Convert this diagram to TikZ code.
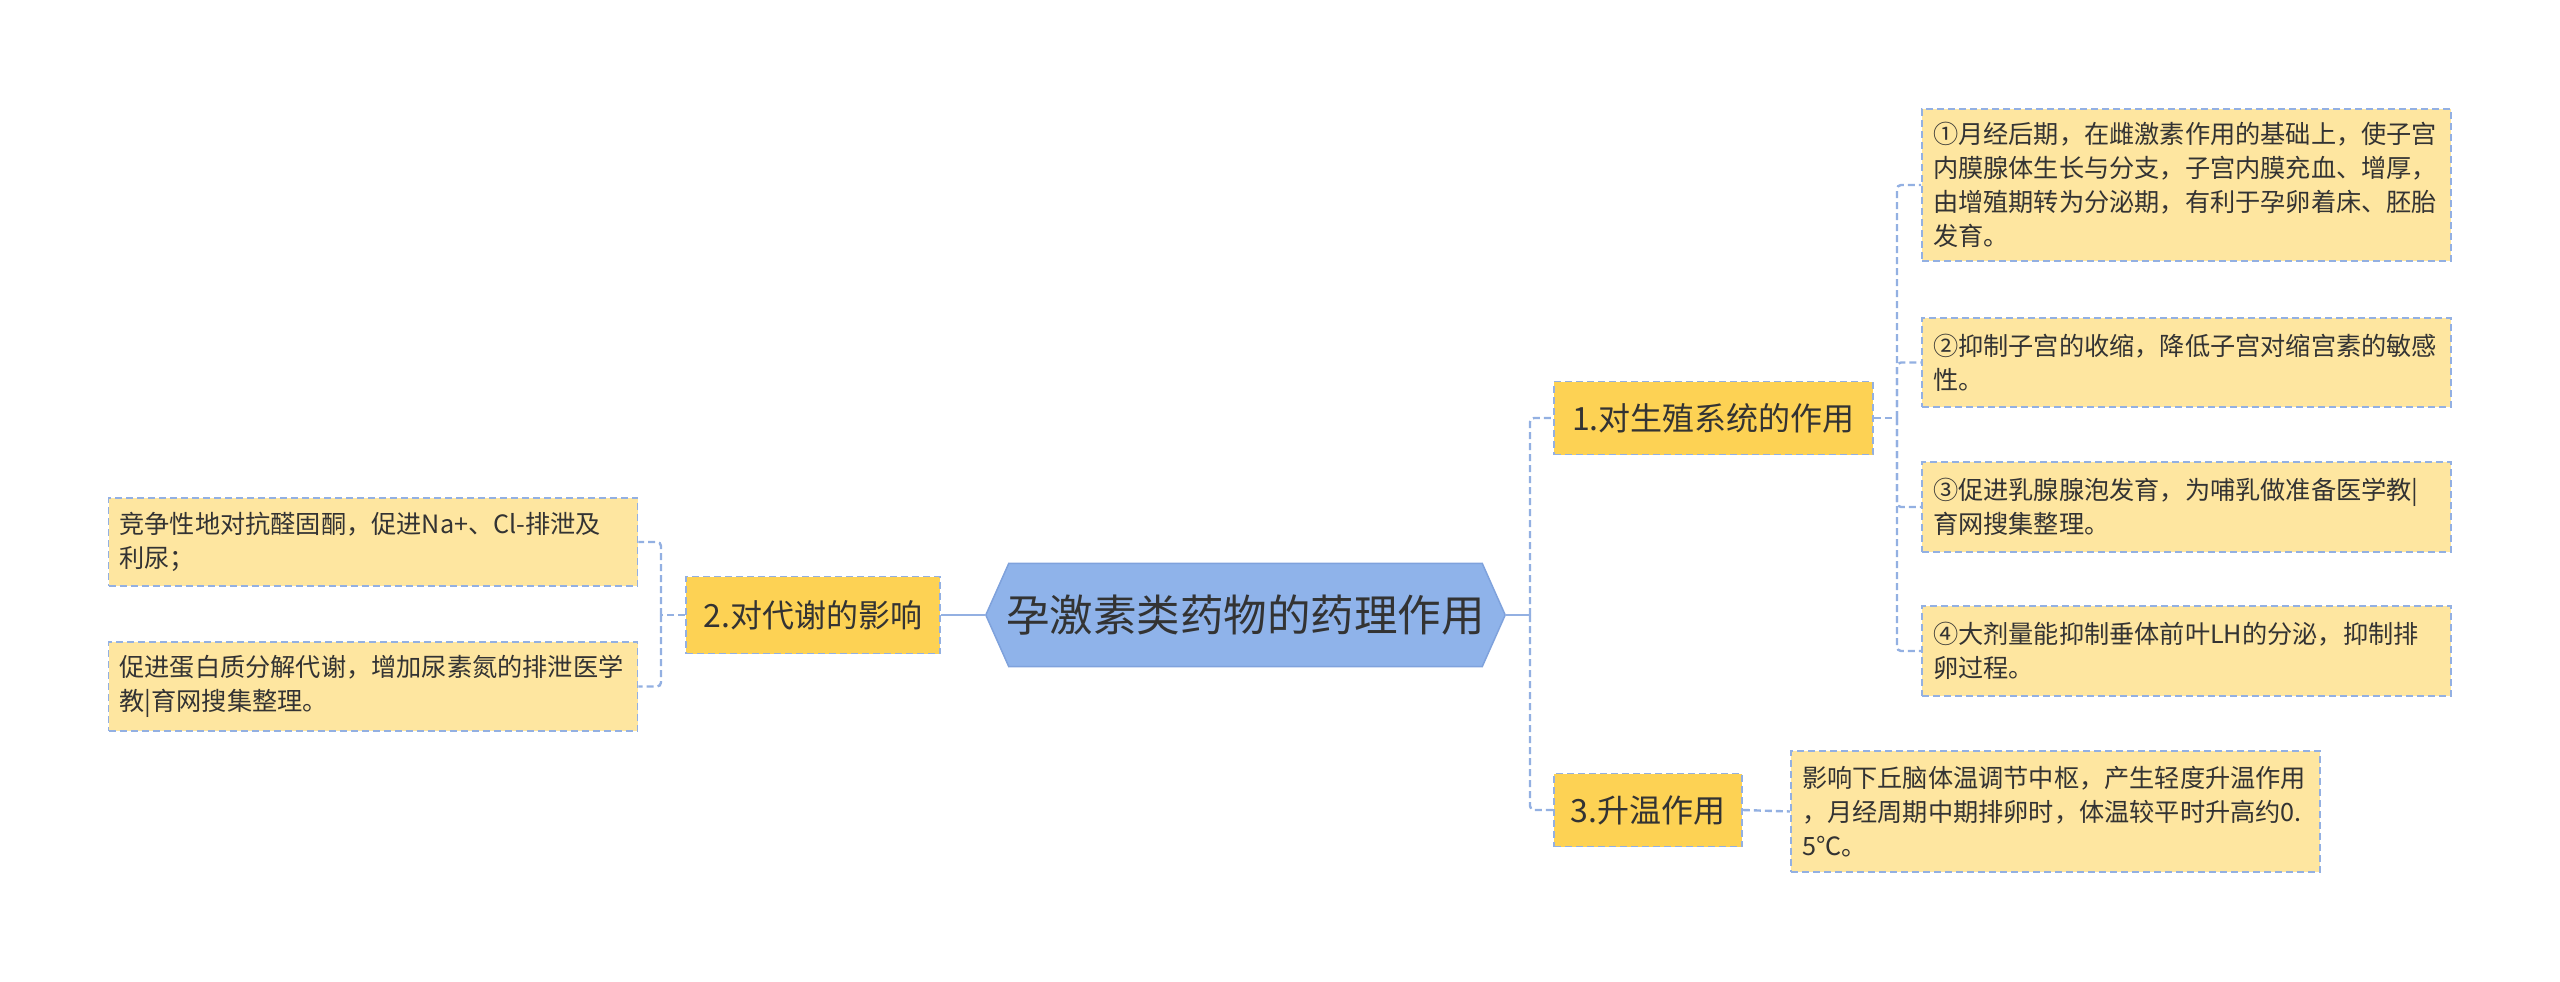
\documentclass[tikz,border=0pt]{standalone}
\usepackage{fontspec}
\setmainfont{Noto Sans CJK SC}
\usetikzlibrary{backgrounds}
\definecolor{rootfill}{HTML}{8FB3EA}
\definecolor{rootline}{HTML}{7FA2DC}
\definecolor{branchfill}{HTML}{FDD254}
\definecolor{leaffill}{HTML}{FEE6A0}
\definecolor{edgeblue}{HTML}{93B0E2}
\definecolor{txt}{HTML}{333333}
\begin{document}
\begin{tikzpicture}[x=1pt,y=-1pt,
  every node/.style={text=txt, inner sep=0pt},
  boxline/.style={draw=edgeblue, line width=1.6pt, dash pattern=on 7pt off 4pt},
  branchbox/.style={boxline, fill=branchfill, minimum height=73pt, font=\fontsize{32}{38}\selectfont},
  leafbox/.style={boxline, fill=leaffill, text width=507pt, inner xsep=11pt, align=left, font=\fontsize{25.2}{34}\selectfont},
  conn/.style={draw=edgeblue, line width=2.4pt, dash pattern=on 7pt off 4pt, rounded corners=4pt},
  rootconn/.style={draw=edgeblue, line width=2.4pt}
]
\useasboundingbox (0,0) rectangle (2560,982);
% root
\node[font=\fontsize{43.5}{50}\selectfont, minimum width=519pt, minimum height=103pt] (root) at (1245.5,615) {孕激素类药物的药理作用};
\begin{scope}[on background layer]
\filldraw[fill=rootfill, draw=rootline, line width=1.5pt] (root.west) -- ([xshift=23pt]root.north west) -- ([xshift=-23pt]root.north east) -- (root.east) -- ([xshift=-23pt]root.south east) -- ([xshift=23pt]root.south west) -- cycle;
\end{scope}
% branches
\node[branchbox, minimum width=319pt] (b1) at (1713.5,418) {1.对生殖系统的作用};
\node[branchbox, minimum width=188pt] (b3) at (1648,810) {3.升温作用};
\node[branchbox, minimum width=254pt, minimum height=77pt] (b2) at (813,615) {2.对代谢的影响};
% leaves of branch 1
\node[leafbox, minimum height=152pt] (l1) at (2186.5,185) {①月经后期，在雌激素作用的基础上，使子宫\\内膜腺体生长与分支，子宫内膜充血、增厚，\\由增殖期转为分泌期，有利于孕卵着床、胚胎\\发育。};
\node[leafbox, minimum height=89pt] (l2) at (2186.5,362.5) {②抑制子宫的收缩，降低子宫对缩宫素的敏感\\性。};
\node[leafbox, minimum height=90pt] (l3) at (2186.5,507) {③促进乳腺腺泡发育，为哺乳做准备医学教|\\育网搜集整理。};
\node[leafbox, minimum height=90pt] (l4) at (2186.5,651) {④大剂量能抑制垂体前叶LH的分泌，抑制排\\卵过程。};
% leaf of branch 3
\node[leafbox, minimum height=121pt] (l5) at (2055.5,811.5) {影响下丘脑体温调节中枢，产生轻度升温作用\\，月经周期中期排卵时，体温较平时升高约0.\\5℃。};
% leaves of branch 2
\node[leafbox, minimum height=88pt] (m1) at (373,542) {竞争性地对抗醛固酮，促进Na+、Cl-排泄及\\利尿；};
\node[leafbox, minimum height=89pt] (m2) at (373,686.5) {促进蛋白质分解代谢，增加尿素氮的排泄医学\\教|育网搜集整理。};
% junctions
\coordinate (rj) at (1530,615);
\coordinate (b1j) at (1897,418);
\coordinate (b2j) at (661,615);
% connectors
\draw[rootconn] (root.east) -- (rj);
\draw[conn] (rj) |- (b1.west);
\draw[conn] (rj) |- (b3.west);
\draw[rootconn] (root.west) -- (b2.east);
\draw[conn] (b1.east) -- (b1j);
\draw[conn] (b1j) |- (l1.west);
\draw[conn] (b1j) |- (l2.west);
\draw[conn] (b1j) |- (l3.west);
\draw[conn] (b1j) |- (l4.west);
\draw[conn] (b3.east) -- (l5.west);
\draw[conn] (b2.west) -- (b2j);
\draw[conn] (b2j) |- (m1.east);
\draw[conn] (b2j) |- (m2.east);
\end{tikzpicture}
\end{document}
